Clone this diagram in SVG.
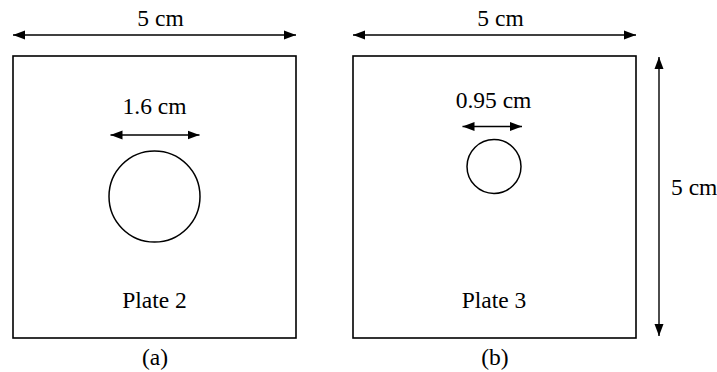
<svg xmlns="http://www.w3.org/2000/svg" width="717" height="372" viewBox="0 0 717 372">
<defs>
<marker id="ah" markerUnits="userSpaceOnUse" markerWidth="13" markerHeight="10" refX="12" refY="4.5" orient="auto-start-reverse" viewBox="0 0 13 9">
<path d="M0,0 L12,4.5 L0,9 Z" fill="#000"/>
</marker>
</defs>
<style>
.plate{fill:#fff;stroke:#000;stroke-width:1.6}
.hole{fill:none;stroke:#000;stroke-width:1.5}
.dim{stroke:#000;stroke-width:1.4;fill:none;marker-start:url(#ah);marker-end:url(#ah)}
.t{font-family:'Liberation Serif','Times New Roman',serif;font-size:23.5px;fill:#000}
.c{text-anchor:middle}
</style>
<rect width="717" height="372" fill="#fff"/>
<g id="plate2">
<rect class="plate" x="13" y="56" width="283" height="282"/>
<circle class="hole" cx="154.5" cy="196.5" r="45.5"/>
<text class="t c" font-family="Liberation Serif, serif" font-size="23.5" x="154.5" y="308">Plate 2</text>
</g>
<g id="plate3">
<rect class="plate" x="353" y="56" width="283" height="282"/>
<circle class="hole" cx="494" cy="166.5" r="27"/>
<text class="t c" font-family="Liberation Serif, serif" font-size="23.5" x="494" y="308">Plate 3</text>
</g>
<g id="connectors">
<line class="dim" x1="13" y1="35" x2="296" y2="35"/>
<line class="dim" x1="353" y1="35" x2="636" y2="35"/>
<line class="dim" x1="659" y1="57" x2="659" y2="336"/>
<line class="dim" x1="110.5" y1="135" x2="199.5" y2="135"/>
<line class="dim" x1="462.5" y1="126.5" x2="522" y2="126.5"/>
</g>
<g id="labels" font-family="Liberation Serif, serif" font-size="23.5">
<text class="t c" x="160.5" y="26">5 cm</text>
<text class="t c" x="500.5" y="26">5 cm</text>
<text class="t" x="671" y="195">5 cm</text>
<text class="t c" x="154.5" y="114">1.6 cm</text>
<text class="t c" x="493.5" y="107.5">0.95 cm</text>
<text class="t c" x="155" y="365">(a)</text>
<text class="t c" x="495" y="365">(b)</text>
</g>
</svg>
